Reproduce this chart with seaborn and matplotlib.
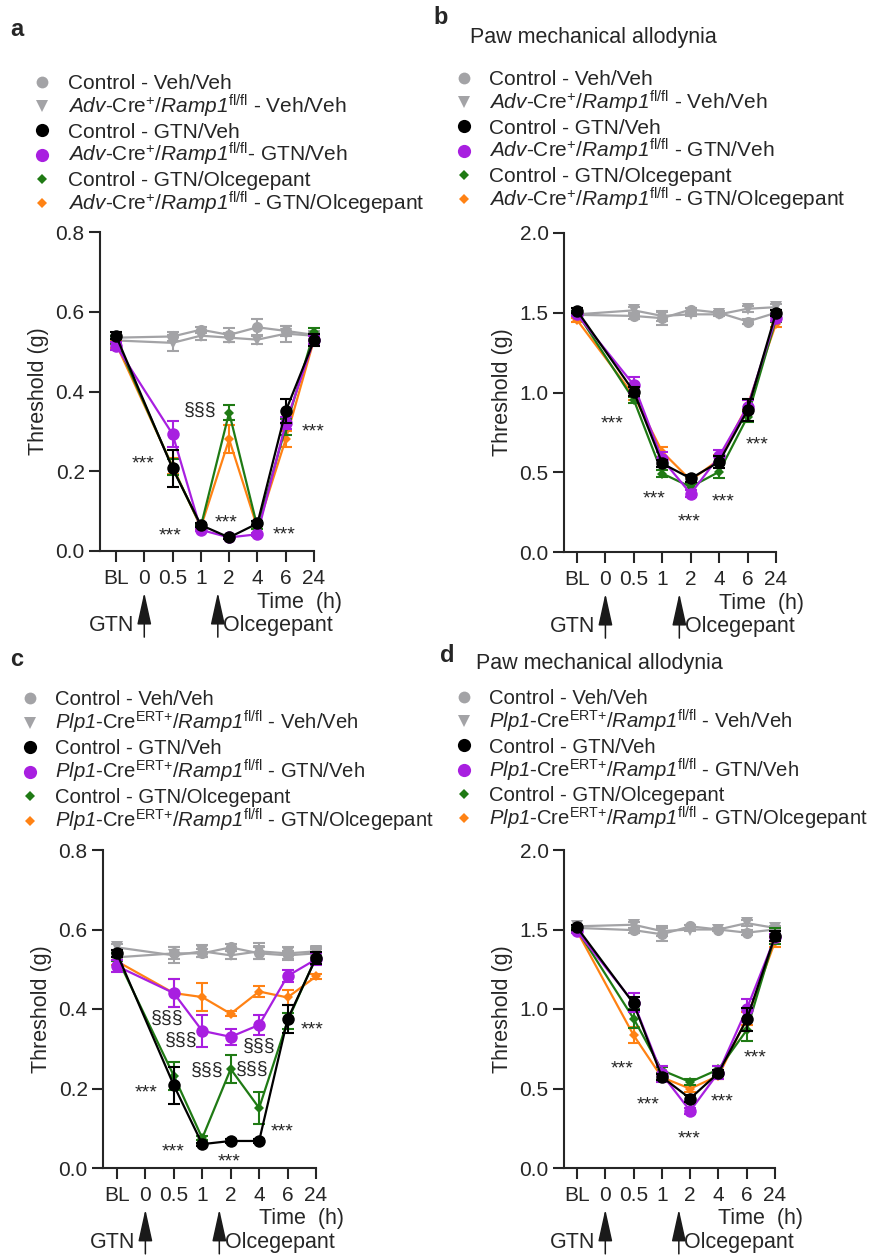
import matplotlib
matplotlib.use("Agg")
import matplotlib.pyplot as plt
from matplotlib.lines import Line2D
import seaborn as sns

sns.set_style("ticks")
plt.rcParams.update(
    {
        "font.family": ["Liberation Sans", "DejaVu Sans"],
        "mathtext.fontset": "custom",
        "mathtext.rm": "Liberation Sans",
        "mathtext.it": "Liberation Sans:italic",
        "mathtext.sf": "Liberation Sans:italic",
        "mathtext.bf": "Liberation Sans:bold",
        "font.size": 15,
        "axes.linewidth": 1.5,
        "axes.spines.right": False,
        "axes.spines.top": False,
    }
)

TIME_LABELS = ["BL", "0", "0.5", "1", "2", "4", "6", "24"]
X_POS = [0, 2, 3, 4, 5, 6, 7]  # time points measured (no reading at "0")

GROUPS = ["veh_ctrl", "veh_ko", "olc_ko", "olc_ctrl", "gtn_ko", "gtn_ctrl"]
COLORS = {
    "veh_ctrl": "#A3A3A6",
    "veh_ko": "#A3A3A6",
    "gtn_ctrl": "#000000",
    "gtn_ko": "#A81FE0",
    "olc_ctrl": "#1F7A14",
    "olc_ko": "#FF8214",
}
MARKERS = {"veh_ctrl": "o", "veh_ko": "v", "gtn_ctrl": "o", "gtn_ko": "o", "olc_ctrl": "D", "olc_ko": "D"}
MSIZE = {"veh_ctrl": 8, "veh_ko": 8, "gtn_ctrl": 9, "gtn_ko": 9, "olc_ctrl": 5.5, "olc_ko": 5.5}
LEGEND_ORDER = ["veh_ctrl", "veh_ko", "gtn_ctrl", "gtn_ko", "olc_ctrl", "olc_ko"]

# ---- panel a: Adv-Cre, 0-0.8 g
A_MEAN = {
    "veh_ctrl": [0.535, 0.538, 0.555, 0.542, 0.561, 0.552, 0.542],
    "veh_ko": [0.528, 0.522, 0.540, 0.535, 0.530, 0.545, 0.540],
    "gtn_ctrl": [0.540, 0.207, 0.065, 0.034, 0.069, 0.351, 0.528],
    "gtn_ko": [0.515, 0.293, 0.053, 0.034, 0.042, 0.320, 0.530],
    "olc_ctrl": [0.530, 0.210, 0.062, 0.347, 0.060, 0.310, 0.548],
    "olc_ko": [0.520, 0.212, 0.060, 0.280, 0.058, 0.280, 0.530],
}
A_SEM = {
    "veh_ctrl": [0.015, 0.012, 0.008, 0.018, 0.020, 0.012, 0.010],
    "veh_ko": [0.010, 0.020, 0.010, 0.012, 0.010, 0.020, 0.010],
    "gtn_ctrl": [0.008, 0.047, 0.005, 0.004, 0.005, 0.031, 0.015],
    "gtn_ko": [0.010, 0.032, 0.004, 0.004, 0.004, 0.015, 0.010],
    "olc_ctrl": [0.010, 0.020, 0.004, 0.018, 0.004, 0.020, 0.010],
    "olc_ko": [0.010, 0.020, 0.004, 0.035, 0.004, 0.020, 0.010],
}
# ---- panel b: Adv-Cre, 0-2 g
B_MEAN = {
    "veh_ctrl": [1.487, 1.480, 1.466, 1.520, 1.500, 1.445, 1.500],
    "veh_ko": [1.490, 1.515, 1.480, 1.490, 1.490, 1.525, 1.535],
    "gtn_ctrl": [1.514, 1.005, 0.555, 0.461, 0.565, 0.890, 1.500],
    "gtn_ko": [1.490, 1.047, 0.580, 0.366, 0.600, 0.910, 1.470],
    "olc_ctrl": [1.500, 0.953, 0.492, 0.408, 0.503, 0.848, 1.460],
    "olc_ko": [1.455, 0.980, 0.628, 0.450, 0.580, 0.920, 1.430],
}
B_SEM = {
    "veh_ctrl": [0.010, 0.020, 0.040, 0.010, 0.010, 0.015, 0.020],
    "veh_ko": [0.010, 0.020, 0.030, 0.010, 0.010, 0.020, 0.020],
    "gtn_ctrl": [0.015, 0.030, 0.020, 0.020, 0.040, 0.070, 0.020],
    "gtn_ko": [0.010, 0.050, 0.050, 0.020, 0.040, 0.040, 0.020],
    "olc_ctrl": [0.010, 0.020, 0.020, 0.020, 0.040, 0.030, 0.020],
    "olc_ko": [0.010, 0.030, 0.030, 0.020, 0.030, 0.030, 0.020],
}
# ---- panel c: Plp1-CreERT, 0-0.8 g
C_MEAN = {
    "veh_ctrl": [0.530, 0.540, 0.540, 0.555, 0.540, 0.535, 0.540],
    "veh_ko": [0.555, 0.535, 0.545, 0.535, 0.545, 0.540, 0.545],
    "gtn_ctrl": [0.540, 0.208, 0.060, 0.068, 0.068, 0.374, 0.528],
    "gtn_ko": [0.508, 0.440, 0.345, 0.330, 0.360, 0.483, 0.525],
    "olc_ctrl": [0.530, 0.232, 0.075, 0.249, 0.151, 0.370, 0.530],
    "olc_ko": [0.520, 0.440, 0.430, 0.388, 0.444, 0.429, 0.482],
}
C_SEM = {
    "veh_ctrl": [0.010, 0.015, 0.010, 0.008, 0.015, 0.012, 0.010],
    "veh_ko": [0.008, 0.020, 0.015, 0.010, 0.020, 0.015, 0.010],
    "gtn_ctrl": [0.008, 0.047, 0.004, 0.004, 0.004, 0.035, 0.015],
    "gtn_ko": [0.015, 0.035, 0.040, 0.020, 0.025, 0.015, 0.015],
    "olc_ctrl": [0.010, 0.035, 0.005, 0.035, 0.040, 0.020, 0.010],
    "olc_ko": [0.010, 0.035, 0.035, 0.006, 0.015, 0.020, 0.006],
}
# ---- panel d: Plp1-CreERT, 0-2 g
D_MEAN = {
    "veh_ctrl": [1.510, 1.496, 1.470, 1.520, 1.500, 1.480, 1.500],
    "veh_ko": [1.520, 1.530, 1.490, 1.500, 1.500, 1.540, 1.510],
    "gtn_ctrl": [1.513, 1.035, 0.573, 0.437, 0.598, 0.934, 1.459],
    "gtn_ko": [1.490, 1.040, 0.590, 0.359, 0.600, 1.000, 1.450],
    "olc_ctrl": [1.500, 0.940, 0.615, 0.541, 0.620, 0.867, 1.460],
    "olc_ko": [1.490, 0.835, 0.570, 0.499, 0.580, 0.940, 1.423],
}
D_SEM = {
    "veh_ctrl": [0.010, 0.015, 0.040, 0.010, 0.010, 0.015, 0.010],
    "veh_ko": [0.010, 0.020, 0.030, 0.010, 0.010, 0.020, 0.015],
    "gtn_ctrl": [0.015, 0.040, 0.020, 0.020, 0.020, 0.070, 0.030],
    "gtn_ko": [0.010, 0.060, 0.050, 0.020, 0.040, 0.060, 0.020],
    "olc_ctrl": [0.010, 0.060, 0.020, 0.020, 0.020, 0.070, 0.050],
    "olc_ko": [0.010, 0.050, 0.020, 0.020, 0.020, 0.040, 0.030],
}

# significance labels: (x index, y, text)
A_SIG = [(0.95, 0.234, "***"), (1.93, 0.054, "***"), (3.91, 0.086, "***"),
         (5.94, 0.057, "***"), (6.96, 0.316, "***"), (2.97, 0.354, "§§§")]
B_SIG = [(1.22, 0.844, "***"), (2.72, 0.377, "***"), (3.94, 0.230, "***"),
         (5.15, 0.356, "***"), (6.35, 0.712, "***")]
C_SIG = [(1.01, 0.205, "***"), (1.98, 0.057, "***"), (3.95, 0.031, "***"),
         (5.82, 0.107, "***"), (6.85, 0.364, "***"),
         (1.75, 0.377, "§§§"), (2.25, 0.322, "§§§"), (3.18, 0.247, "§§§"),
         (4.76, 0.249, "§§§"), (5.00, 0.306, "§§§")]
D_SIG = [(1.61, 0.667, "***"), (2.52, 0.437, "***"), (3.96, 0.227, "***"),
         (5.13, 0.457, "***"), (6.31, 0.734, "***")]

ADV = r"$\mathsf{Adv}$-Cre$^{+}$/$\mathsf{Ramp1}^{\mathrm{fl/fl}}$"
PLP = r"$\mathsf{Plp1}$-Cre$^{\mathrm{ERT}{+}}$/$\mathsf{Ramp1}^{\mathrm{fl/fl}}$"
A_LABELS = ["Control - Veh/Veh", ADV + " - Veh/Veh", "Control - GTN/Veh",
            ADV + "- GTN/Veh", "Control - GTN/Olcegepant", ADV + " - GTN/Olcegepant"]
B_LABELS = ["Control - Veh/Veh", ADV + " - Veh/Veh", "Control - GTN/Veh",
            ADV + " - GTN/Veh", "Control - GTN/Olcegepant", ADV + " - GTN/Olcegepant"]
P_LABELS = ["Control - Veh/Veh", PLP + " - Veh/Veh", "Control - GTN/Veh",
            PLP + " - GTN/Veh", "Control - GTN/Olcegepant", PLP + " - GTN/Olcegepant"]

W, H = 872, 1255
fig = plt.figure(figsize=(W / 100, H / 100), dpi=100)


def fbox(left, top, right, bottom):
    return [left / W, 1 - bottom / H, (right - left) / W, (bottom - top) / H]


def draw_panel(ax, means, sems, ymax, xleft, sigs):
    for g in GROUPS:
        c = COLORS[g]
        ax.errorbar(X_POS, means[g], yerr=sems[g], fmt="none", ecolor=c,
                    elinewidth=1.5, capsize=4.5, capthick=1.5, clip_on=False)
        sns.lineplot(x=X_POS, y=means[g], color=c, marker=MARKERS[g],
                     markersize=MSIZE[g], markeredgewidth=0, linewidth=1.6,
                     ax=ax, clip_on=False)
    ax.set_xlim(xleft, 7)
    ax.set_ylim(0, ymax)
    step = ymax / 4
    ax.set_yticks([i * step for i in range(5)])
    ax.set_yticklabels([f"{i * step:.1f}" for i in range(5)])
    ax.set_xticks(range(8))
    ax.set_xticklabels(TIME_LABELS)
    ax.tick_params(axis="both", length=8, width=1.5, labelsize=15)
    ax.tick_params(axis="y", pad=3)
    ax.tick_params(axis="x", pad=5)
    ax.set_xlabel("")
    ax.set_ylabel("Threshold (g)", fontsize=15.5, labelpad=5)
    for x, y, t in sigs:
        if t == "***":
            ax.annotate(t, (x, y), xytext=(0, -8), textcoords="offset points",
                        ha="center", va="baseline", fontsize=14)
        else:
            ax.text(x, y, t, ha="center", va="center", fontsize=14)
    ax.text(5.0, -0.16, "Time  (h)", transform=ax.get_xaxis_transform(),
            ha="left", va="center", fontsize=15.5)
    for xa, txt, side in [(1, "GTN", "right"), (3.6, "Olcegepant", "left")]:
        ax.annotate("", xy=(xa, -0.13), xytext=(xa, -0.27),
                    xycoords=ax.get_xaxis_transform(), textcoords=ax.get_xaxis_transform(),
                    arrowprops=dict(arrowstyle="-|>,head_length=1.0,head_width=0.22",
                                    color="#1a1a1a", lw=1.1, mutation_scale=20,
                                    shrinkA=0, shrinkB=0))
        off = -0.35 if side == "right" else 0.2
        ax.text(xa + off, -0.235, txt, transform=ax.get_xaxis_transform(),
                ha=side, va="center", fontsize=15.5)


def add_legend(labels, mx, tx, y0, step, size):
    # marker-only key drawn at figure level, one row per group
    for i, (g, lab) in enumerate(zip(LEGEND_ORDER, labels)):
        y = y0 + i * step
        fig.add_artist(Line2D([mx / W], [1 - y / H], transform=fig.transFigure,
                              ls="none", marker=MARKERS[g], color=COLORS[g],
                              markersize=MSIZE[g] + (0.5 if MARKERS[g] == "o" else 0),
                              markeredgewidth=0))
        fig.text(tx / W, 1 - (y + 7.4) / H, lab, fontsize=size, ha="left", va="baseline")


ax_a = fig.add_axes(fbox(100, 232, 314, 551))
ax_b = fig.add_axes(fbox(564, 233, 776, 552))
ax_c = fig.add_axes(fbox(103, 850, 316, 1168))
ax_d = fig.add_axes(fbox(564, 850, 775, 1168))

draw_panel(ax_a, A_MEAN, A_SEM, 0.8, -0.565, A_SIG)
draw_panel(ax_b, B_MEAN, B_SEM, 2.0, -0.457, B_SIG)
draw_panel(ax_c, C_MEAN, C_SEM, 0.8, -0.49, C_SIG)
draw_panel(ax_d, D_MEAN, D_SEM, 2.0, -0.46, D_SIG)

add_legend(A_LABELS, 42, 68, 82, 24.2, 15)
add_legend(B_LABELS, 464, 489, 78, 24.2, 15)
add_legend(P_LABELS, 30, 55, 698, 24.5, 14.6)
add_legend(P_LABELS, 464, 489, 697, 24.2, 14.6)

for x, y, s in [(10, 30, "a"), (433, 18, "b"), (10, 660, "c"), (440, 656, "d")]:
    fig.text(x / W, 1 - y / H, s, fontsize=17, fontweight="bold", va="center", ha="left")
for x, y in [(470, 37), (476, 663)]:
    fig.text(x / W, 1 - y / H, "Paw mechanical allodynia", fontsize=15.5, va="center", ha="left")

fig.savefig("out.png", dpi=100)
